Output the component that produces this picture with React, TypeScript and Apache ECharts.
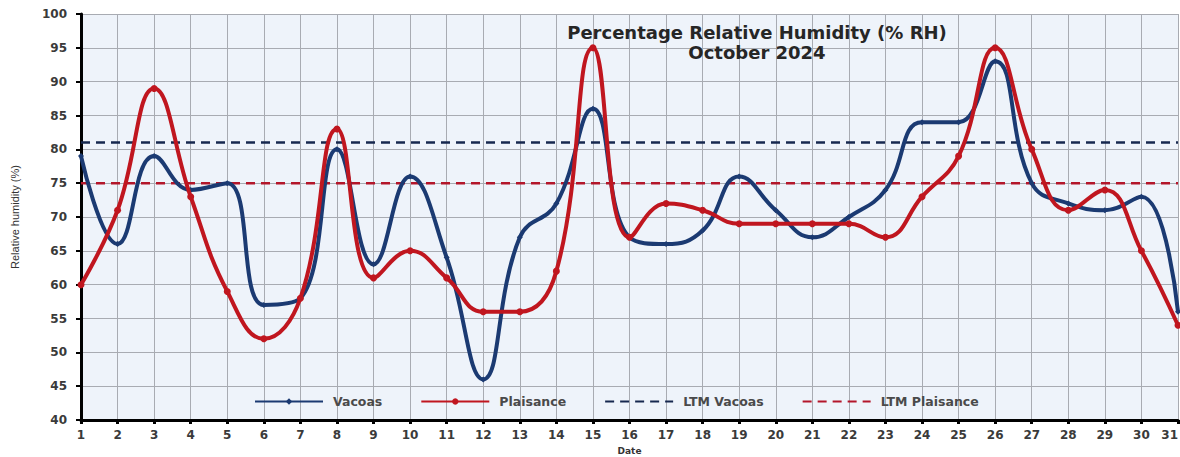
import React, { useEffect, useRef } from "react";
import * as echarts from "echarts";

const days = [
  "1", "2", "3", "4", "5", "6", "7", "8", "9", "10",
  "11", "12", "13", "14", "15", "16", "17", "18", "19", "20",
  "21", "22", "23", "24", "25", "26", "27", "28", "29", "30", "31",
];

const vacoas = [79, 66, 79, 74, 75, 57, 58, 80, 63, 76, 64, 46, 67, 72, 86, 67, 66, 68, 76, 71, 67, 70, 74, 84, 84, 93, 75, 72, 71, 73, 56];
const plaisance = [60, 71, 89, 73, 59, 52, 58, 83, 61, 65, 61, 56, 56, 62, 95, 67, 72, 71, 69, 69, 69, 69, 67, 73, 79, 95, 80, 71, 74, 65, 54];
const ltmVacoas = 81;
const ltmPlaisance = 75;

const titleLines = ["Percentage Relative Humidity (% RH)", "October 2024"];
const yTicks = { min: 40, max: 100, interval: 5 };

export default function App() {
  const ref = useRef<HTMLDivElement>(null);

  useEffect(() => {
    if (!ref.current) return;
    const chart = echarts.init(ref.current, undefined, { renderer: "svg" });
    const navy = "#1b3a72";
    const red = "#c0161f";
    const tickFont = {
      fontFamily: "DejaVu Sans",
      fontWeight: "bold" as const,
      fontSize: 12,
      color: "#3a3a3a",
    };
    chart.setOption({
      animation: false,
      backgroundColor: "#ffffff",
      title: {
        text: titleLines.join("\n"),
        left: 752,
        top: 17,
        textAlign: "center",
        textStyle: {
          fontFamily: "DejaVu Sans",
          fontWeight: "bold",
          fontSize: 18,
          color: "#262626",
          lineHeight: 20,
        },
      },
      legend: {
        top: 390,
        left: 249,
        itemWidth: 68,
        itemHeight: 8,
        itemGap: 38,
        textStyle: {
          fontFamily: "DejaVu Sans",
          fontWeight: "bold",
          fontSize: 12.5,
          color: "#4a4a4a",
          padding: [0, 0, 0, 5],
        },
        data: [
          { name: "Vacoas" },
          { name: "Plaisance" },
          { name: "LTM Vacoas", itemStyle: { opacity: 0 } },
          { name: "LTM Plaisance", itemStyle: { opacity: 0 } },
        ],
      },
      grid: {
        left: 81,
        right: 2,
        top: 14,
        bottom: 37,
        containLabel: false,
        outerBoundsMode: "none",
        show: true,
        backgroundColor: "#eef3fa",
        borderWidth: 0,
      },
      xAxis: {
        type: "category",
        data: days,
        boundaryGap: false,
        name: "Date",
        nameLocation: "middle",
        nameGap: 26,
        nameTextStyle: {
          fontFamily: "DejaVu Sans",
          fontWeight: "bold",
          fontSize: 9,
          color: "#333",
        },
        axisLine: { lineStyle: { color: "#000", width: 3 } },
        axisTick: { show: true, length: 4, lineStyle: { color: "#000", width: 3 }, alignWithLabel: true },
        axisLabel: { ...tickFont, margin: 9, interval: 0, alignMaxLabel: "right" },
        splitLine: { show: true, lineStyle: { color: "#a8abb2", width: 1 } },
      },
      yAxis: {
        type: "value",
        min: yTicks.min,
        max: yTicks.max,
        interval: yTicks.interval,
        name: "Relative humidity (%)",
        nameLocation: "middle",
        nameGap: 61,
        nameRotate: 90,
        nameTextStyle: {
          fontFamily: "Liberation Sans Narrow, Liberation Sans",
          fontSize: 11,
          color: "#333",
        },
        axisLine: { show: true, lineStyle: { color: "#000", width: 3 } },
        axisTick: { show: true, length: 5, lineStyle: { color: "#000", width: 2 } },
        axisLabel: { ...tickFont, margin: 14 },
        splitLine: { show: true, lineStyle: { color: "#a8abb2", width: 1 } },
      },
      series: [
        {
          name: "LTM Vacoas",
          type: "line",
          data: days.map(() => ltmVacoas),
          showSymbol: false,
          symbol: "none",
          lineStyle: { color: "#16284f", width: 2.5, type: [9, 6] },
          itemStyle: { color: "#16284f" },
          z: 1,
        },
        {
          name: "LTM Plaisance",
          type: "line",
          data: days.map(() => ltmPlaisance),
          showSymbol: false,
          symbol: "none",
          lineStyle: { color: "#b3162a", width: 2.5, type: [9, 6] },
          itemStyle: { color: "#b3162a" },
          z: 1,
        },
        {
          name: "Vacoas",
          type: "line",
          data: vacoas,
          smooth: 0.45,
          symbol: "diamond",
          symbolSize: 6,
          lineStyle: { color: navy, width: 4 },
          itemStyle: { color: navy },
          z: 3,
        },
        {
          name: "Plaisance",
          type: "line",
          data: plaisance,
          smooth: 0.45,
          symbol: "circle",
          symbolSize: 7,
          lineStyle: { color: red, width: 4 },
          itemStyle: { color: red },
          z: 4,
        },
      ],
    });
    return () => chart.dispose();
  }, []);

  return (
    <div
      ref={ref}
      style={{ position: "fixed", left: 0, top: 0, width: 1180, height: 457 }}
    />
  );
}
